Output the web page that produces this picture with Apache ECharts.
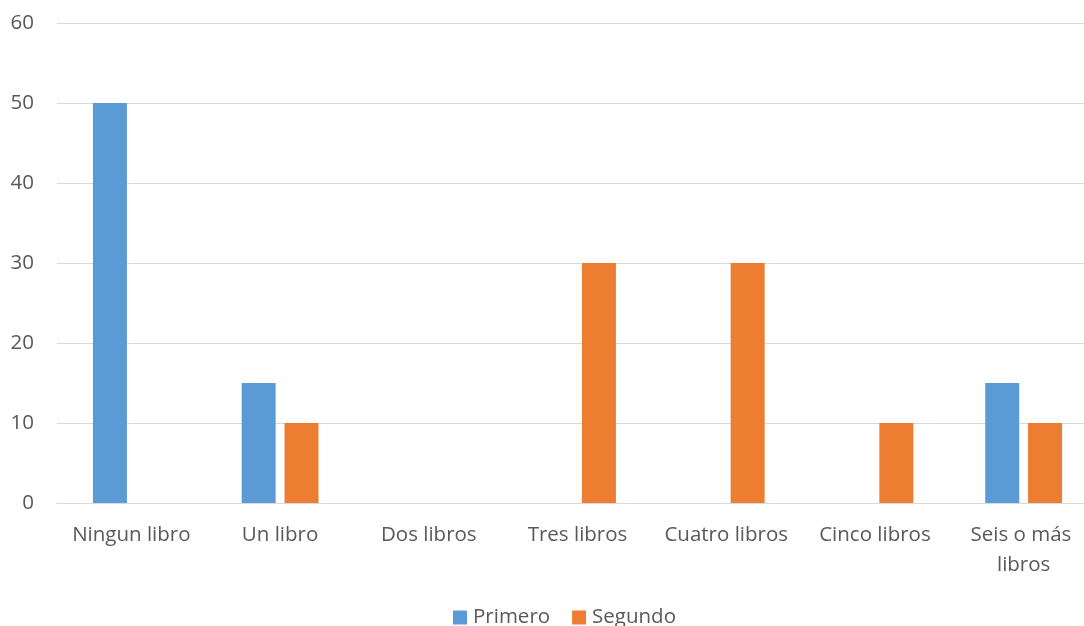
<!DOCTYPE html>
<html>
<head>
<meta charset="utf-8">
<script src="https://cdn.jsdelivr.net/npm/echarts@6/dist/echarts.min.js"></script>
<style>
  html, body { margin: 0; padding: 0; background: #fff; overflow: hidden; }
  #chart { width: 1084px; height: 626px; }
</style>
</head>
<body>
<div id="chart"></div>
<script>
// Number of books read, first vs. second group
const categories = ['Ningun libro', 'Un libro', 'Dos libros', 'Tres libros', 'Cuatro libros', 'Cinco libros', 'Seis o más libros'];
const primero = [50, 15, 0, 0, 0, 0, 15];
const segundo = [0, 10, 0, 30, 30, 10, 10];
const seriesNames = ['Primero', 'Segundo'];
const yTicks = { min: 0, max: 60, interval: 10 };

const textColor = '#595959';
const font = '"Open Sans", sans-serif';
const fontSize = 20.5;

const chart = echarts.init(document.getElementById('chart'), null, { renderer: 'canvas' });
chart.setOption({
  animation: false,
  backgroundColor: '#ffffff',
  color: ['#5B9BD5', '#ED7D31'],
  // plot area runs slightly past the right edge of the canvas
  grid: { left: 57, width: 1041, top: 23, bottom: 123, containLabel: false, outerBoundsMode: 'none' },
  legend: {
    bottom: -7,
    left: 448,
    itemWidth: 14,
    itemHeight: 14,
    itemGap: 22,
    icon: 'rect',
    textStyle: { color: textColor, fontSize: fontSize, fontFamily: font, padding: [0, 0, 0, 1] },
    data: seriesNames
  },
  xAxis: {
    type: 'category',
    data: categories,
    axisLine: { show: true, lineStyle: { color: '#d9d9d9', width: 1 } },
    axisTick: { show: false },
    axisLabel: {
      color: textColor, fontSize: fontSize, fontFamily: font, margin: 17,
      interval: 0, width: 140, overflow: 'break', lineHeight: 30
    }
  },
  yAxis: {
    type: 'value',
    min: yTicks.min, max: yTicks.max, interval: yTicks.interval,
    axisLine: { show: false },
    axisTick: { show: false },
    splitLine: { lineStyle: { color: '#d9d9d9', width: 1 } },
    axisLabel: { color: textColor, fontSize: fontSize, fontFamily: font, margin: 23 }
  },
  series: [
    { name: seriesNames[0], type: 'bar', data: primero, barWidth: 34, barGap: '26%' },
    { name: seriesNames[1], type: 'bar', data: segundo, barWidth: 34, barGap: '26%' }
  ]
});
</script>
</body>
</html>
